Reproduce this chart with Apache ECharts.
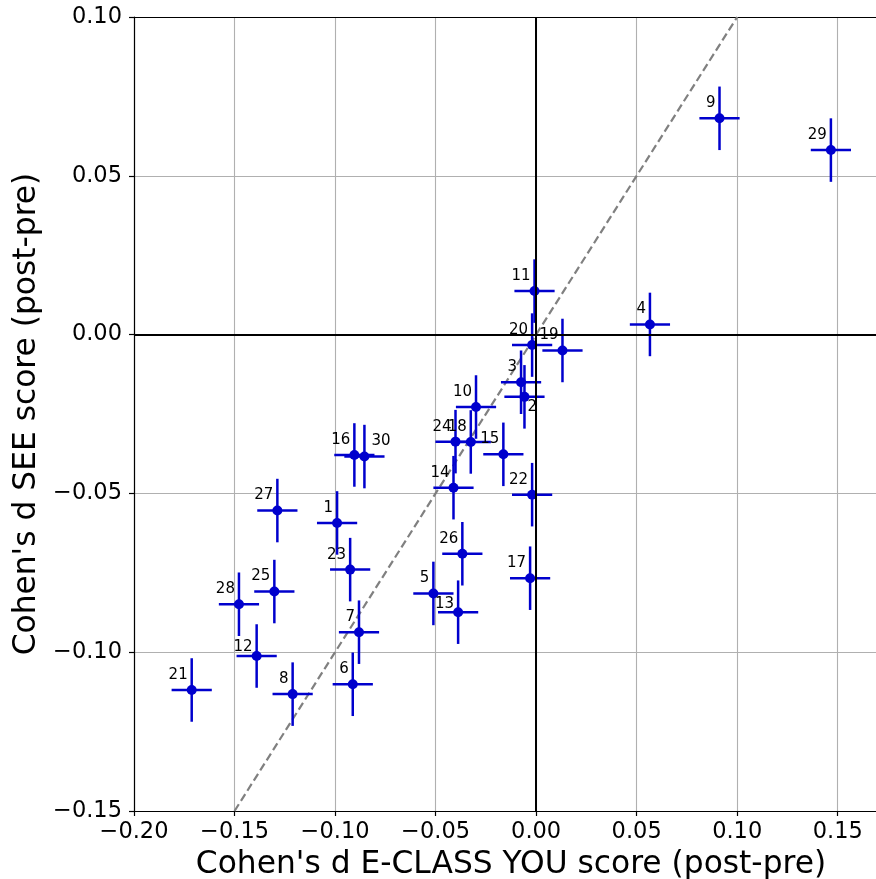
<!DOCTYPE html>
<html>
<head>
<meta charset="utf-8">
<script src="https://cdn.jsdelivr.net/npm/echarts@6/dist/echarts.min.js"></script>
<style>html,body{margin:0;padding:0;background:#fff;}#c{width:876px;height:879px;}</style>
</head>
<body>
<div id="c"></div>
<script>
// ---- data ----
const ids = [1,2,3,4,5,6,7,8,9,10,11,12,13,14,15,16,17,18,19,20,21,22,23,24,25,26,27,28,29,30];
const eclassYou = [-0.0990,-0.0058,-0.0075,0.0566,-0.0511,-0.0912,-0.0881,-0.1211,0.0912,-0.0299,
                   -0.0008,-0.1390,-0.0388,-0.0411,-0.0163,-0.0904,-0.0030,-0.0325,0.0131,-0.0020,
                   -0.1713,-0.0020,-0.0925,-0.0401,-0.1302,-0.0367,-0.1287,-0.1478,0.1466,-0.0854];
const seeScore  = [-0.0593,-0.0196,-0.0150,0.0032,-0.0815,-0.1101,-0.0937,-0.1132,0.0681,-0.0228,
                   0.0137,-0.1012,-0.0874,-0.0482,-0.0377,-0.0379,-0.0767,-0.0338,-0.0050,-0.0033,
                   -0.1119,-0.0504,-0.0740,-0.0337,-0.0809,-0.0690,-0.0554,-0.0849,0.0581,-0.0384];
const xErr = [0.01,0.01,0.01,0.01,0.01,0.01,0.01,0.01,0.01,0.01,0.01,0.01,0.01,0.01,0.01,
              0.01,0.01,0.01,0.01,0.01,0.01,0.01,0.01,0.01,0.01,0.01,0.01,0.01,0.01,0.01];
const yErr = [0.01,0.01,0.01,0.01,0.01,0.01,0.01,0.01,0.01,0.01,0.01,0.01,0.01,0.01,0.01,
              0.01,0.01,0.01,0.01,0.01,0.01,0.01,0.01,0.01,0.01,0.01,0.01,0.01,0.01,0.01];
const diagX = [-0.15, 0.10];
const diagY = [-0.15, 0.10];
const xTicks = [-0.20,-0.15,-0.10,-0.05,0.00,0.05,0.10,0.15];
const yTicks = [-0.15,-0.10,-0.05,0.00,0.05,0.10];
const xTitle = "Cohen's d E-CLASS YOU score (post-pre)";
const yTitle = "Cohen's d SEE score (post-pre)";

// ---- label placement (style, not data) ----
const labelDefault = {align:'right', offset:[-4,-15]};
const labelSpecial = {
  30: {align:'left', offset:[7,-15]},
  2:  {align:'left', offset:[3,10]},
  12: {align:'right', offset:[-4,-9]},
  13: {align:'right', offset:[-4,-8]}
};

const FONT = 'DejaVu Sans';
const BLUE = '#0000CD';

function fmt(v){
  const k = v/0.05;
  if (Math.abs(Math.round(k)-k) > 1e-6) return '';
  const s = Math.abs(v).toFixed(2);
  return (v < -1e-9 ? '\u2212' : '') + s;
}

const pts = ids.map((id,i)=>{
  const l = labelSpecial[id] || labelDefault;
  return {
    name: String(id),
    value: [eclassYou[i], seeScore[i]],
    label: {align: l.align, offset: l.offset}
  };
});
const errData = ids.map((id,i)=>[eclassYou[i], seeScore[i], xErr[i], yErr[i]]);

const chart = echarts.init(document.getElementById('c'), null, {renderer:'canvas'});
chart.setOption({
  animation:false,
  backgroundColor:'#fff',
  textStyle:{fontFamily:FONT},
  grid:{left:134, top:17, bottom:68, right:-12, containLabel:false, outerBoundsMode:'none'},
  xAxis:[{
    type:'value', min:-0.2, max:0.175, interval:0.05,
    name:xTitle, nameLocation:'middle', nameGap:36,
    nameTextStyle:{fontSize:31.3, color:'#000', fontFamily:FONT},
    axisLine:{show:true, onZero:false, lineStyle:{color:'#000', width:1.2}},
    axisTick:{show:true, inside:false, length:5, lineStyle:{color:'#000', width:1.2}},
    axisLabel:{formatter:fmt, fontSize:22.5, color:'#000', margin:10, fontFamily:FONT, showMaxLabel:true},
    splitLine:{show:true, lineStyle:{color:'#b0b0b0', width:1.1}}
  },{
    type:'value', position:'top', min:-0.2, max:0.175,
    axisLine:{show:true, onZero:false, lineStyle:{color:'#000', width:1.2}},
    axisTick:{show:false}, axisLabel:{show:false}, splitLine:{show:false}
  }],
  yAxis:{
    type:'value', min:-0.15, max:0.1, interval:0.05,
    name:yTitle, nameLocation:'middle', nameGap:90, nameRotate:90,
    nameTextStyle:{fontSize:31.3, color:'#000', fontFamily:FONT},
    axisLine:{show:true, onZero:false, lineStyle:{color:'#000', width:1.2}},
    axisTick:{show:true, length:5, lineStyle:{color:'#000', width:1.2}},
    axisLabel:{formatter:fmt, fontSize:22.5, color:'#000', margin:12, fontFamily:FONT},
    splitLine:{show:true, lineStyle:{color:'#b0b0b0', width:1.1}}
  },
  series:[
    {
      type:'line', xAxisIndex:0, z:2,
      data: diagX.map((x,i)=>[x, diagY[i]]),
      symbol:'none',
      lineStyle:{color:'#808080', width:2.2, type:[8,4]},
      silent:true,
      markLine:{
        silent:true, symbol:'none', label:{show:false},
        lineStyle:{color:'#000', width:2, type:'solid', opacity:1},
        data:[{xAxis:0},{yAxis:0}]
      }
    },
    {
      type:'custom', xAxisIndex:0, z:3,
      data: errData,
      renderItem:function(params, api){
        const x = api.value(0), y = api.value(1), ex = api.value(2), ey = api.value(3);
        const a = api.coord([x-ex, y]), b = api.coord([x+ex, y]);
        const c = api.coord([x, y-ey]), d = api.coord([x, y+ey]);
        const st = {stroke:BLUE, lineWidth:2.5};
        return {type:'group', children:[
          {type:'line', shape:{x1:a[0],y1:a[1],x2:b[0],y2:b[1]}, style:st},
          {type:'line', shape:{x1:c[0],y1:c[1],x2:d[0],y2:d[1]}, style:st}
        ]};
      }
    },
    {
      type:'scatter', xAxisIndex:0, z:4,
      data: pts,
      symbol:'circle', symbolSize:10,
      itemStyle:{color:BLUE, opacity:1},
      label:{
        show:true, position:'inside', formatter:'{b}',
        verticalAlign:'middle', fontSize:15, color:'#000', fontFamily:FONT
      }
    }
  ]
});
</script>
</body>
</html>
